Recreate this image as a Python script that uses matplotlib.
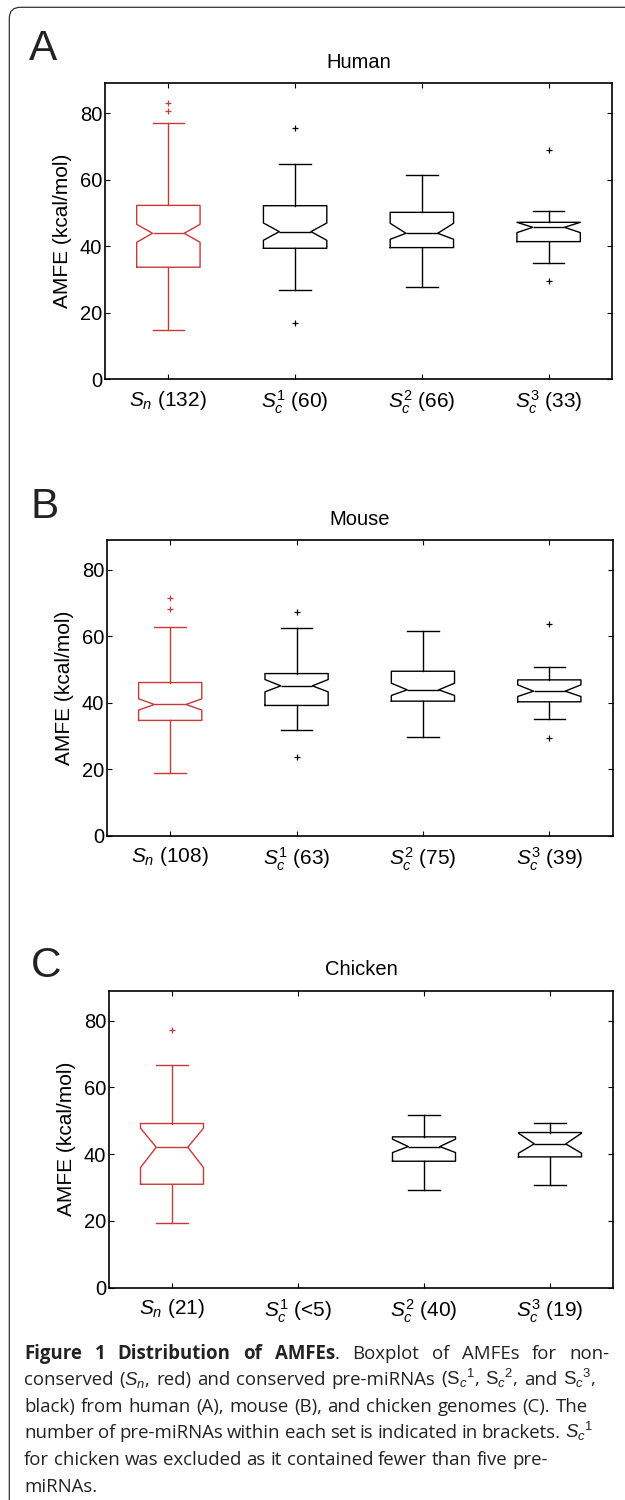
import matplotlib
matplotlib.use('Agg')
import matplotlib.pyplot as plt
from matplotlib.patches import FancyBboxPatch
from matplotlib.transforms import IdentityTransform

plt.rcParams['font.family'] = ['Liberation Sans', 'DejaVu Sans']
plt.rcParams['mathtext.fontset'] = 'custom'
plt.rcParams['mathtext.rm'] = 'Liberation Sans'
plt.rcParams['mathtext.it'] = 'Liberation Sans:italic'
plt.rcParams['mathtext.bf'] = 'Liberation Sans:bold'

W, H = 625, 1500
RED = '#c83a3a'

# ---- data (AMFE, kcal/mol) ----
human_labels = ['$S_n$ (132)', '$S_c^1$ (60)', '$S_c^2$ (66)', '$S_c^3$ (33)']
human_pos = [1, 2, 3, 4]
human_med = [43.9, 44.4, 43.9, 45.7]
human_q1 = [33.7, 39.4, 39.6, 41.4]
human_q3 = [52.3, 52.2, 50.2, 47.2]
human_lo = [14.8, 26.8, 27.9, 35.1]
human_hi = [77.2, 64.8, 61.4, 50.7]
human_cilo = [41.2, 41.8, 42.1, 44.1]
human_cihi = [46.6, 47.0, 46.9, 47.2]
human_fliers = [[83.0, 80.8], [75.5, 16.9], [], [69.0, 29.6]]

mouse_labels = ['$S_n$ (108)', '$S_c^1$ (63)', '$S_c^2$ (75)', '$S_c^3$ (39)']
mouse_pos = [1, 2, 3, 4]
mouse_med = [39.5, 45.1, 43.9, 43.5]
mouse_q1 = [34.7, 39.2, 40.5, 40.3]
mouse_q3 = [46.1, 48.8, 49.5, 46.9]
mouse_lo = [19.0, 31.8, 29.6, 35.0]
mouse_hi = [62.7, 62.5, 61.6, 50.9]
mouse_cilo = [37.8, 43.3, 42.2, 41.9]
mouse_cihi = [41.2, 47.0, 45.9, 45.4]
mouse_fliers = [[71.5, 68.3], [67.2, 23.8], [], [63.7, 29.4]]

chicken_labels = ['$S_n$ (21)', '$S_c^1$ (<5)', '$S_c^2$ (40)', '$S_c^3$ (19)']
chicken_pos = [1, 3, 4]   # S_c^1 excluded
chicken_med = [42.1, 42.3, 43.1]
chicken_q1 = [31.0, 37.9, 39.2]
chicken_q3 = [49.2, 45.2, 46.5]
chicken_lo = [19.4, 29.2, 30.9]
chicken_hi = [66.7, 51.7, 49.5]
chicken_cilo = [36.0, 40.5, 40.3]
chicken_cihi = [47.8, 44.5, 46.3]
chicken_fliers = [[77.1], [], []]

fig = plt.figure(figsize=(W / 100, H / 100), dpi=100)


def fxy(x, y):
    # pixel coords (from top-left) -> figure fraction
    return x / W, 1 - y / H


def panel(box, title, letter, lxy, positions, labels, med, q1, q3, lo, hi, cilo, cihi, fliers):
    x0, y0, x1, y1 = box
    ax = fig.add_axes([x0 / W, 1 - y1 / H, (x1 - x0) / W, (y1 - y0) / H])
    for i, p in enumerate(positions):
        c = RED if p == 1 else 'black'
        st = dict(med=med[i], q1=q1[i], q3=q3[i], whislo=lo[i], whishi=hi[i],
                  cilo=cilo[i], cihi=cihi[i], fliers=fliers[i])
        ax.bxp([st], positions=[p], widths=0.5, shownotches=True,
               boxprops=dict(color=c, lw=1.0),
               whiskerprops=dict(color=c, lw=1.0),
               capprops=dict(color=c, lw=1.0),
               medianprops=dict(color=c, lw=1.0),
               flierprops=dict(marker='+', markeredgecolor=c, markersize=5,
                               markeredgewidth=0.9, linestyle='none'),
               manage_ticks=False)
    ax.set_xlim(0.5, 4.5)
    ax.set_ylim(0, 89)
    ax.set_yticks([0, 20, 40, 60, 80])
    ax.set_xticks([1, 2, 3, 4])
    ax.set_xticklabels(labels, fontsize=15)
    ax.tick_params(axis='y', labelsize=14.5, pad=2)
    ax.tick_params(axis='x', pad=7)
    ax.tick_params(direction='in', length=3.6, width=0.8, top=True, right=True)
    for s in ax.spines.values():
        s.set_linewidth(1.2)
    ax.set_ylabel('AMFE (kcal/mol)', fontsize=15, labelpad=6)
    ax.set_title(title, fontsize=14.5, pad=11)
    fig.text(*fxy(*lxy), letter, fontsize=30.5, color='#222222', va='baseline')
    return ax


panel((105, 83.3, 612, 379.3), 'Human', 'A', (29, 60), human_pos, human_labels,
      human_med, human_q1, human_q3, human_lo, human_hi, human_cilo, human_cihi, human_fliers)
panel((107, 540, 612.5, 835.7), 'Mouse', 'B', (31, 518), mouse_pos, mouse_labels,
      mouse_med, mouse_q1, mouse_q3, mouse_lo, mouse_hi, mouse_cilo, mouse_cihi, mouse_fliers)
panel((109, 990.7, 613, 1287.7), 'Chicken', 'C', (31, 977), chicken_pos, chicken_labels,
      chicken_med, chicken_q1, chicken_q3, chicken_lo, chicken_hi, chicken_cilo, chicken_cihi,
      chicken_fliers)

# article frame with rounded top-left corner
frame = FancyBboxPatch((9.3, -100), 800, H - 7.3 + 100,
                       boxstyle='round,pad=0,rounding_size=11',
                       transform=IdentityTransform(), fill=False,
                       edgecolor='#333333', lw=0.9)
fig.patches.append(frame)

# ---- caption ----
cap_lines = [
    [('Figure 1 Distribution of AMFEs', 'bold'), ('. Boxplot of AMFEs for non-', 'normal')],
    [(r'conserved ($S_n$, red) and conserved pre-miRNAs ($\mathrm{S}_c{}^1$, $\mathrm{S}_c{}^2$, and $\mathrm{S}_c{}^3$,', 'normal')],
    [('black) from human (A), mouse (B), and chicken genomes (C). The', 'normal')],
    [(r'number of pre-miRNAs within each set is indicated in brackets. $S_c{}^1$', 'normal')],
    [('for chicken was excluded as it contained fewer than five pre-', 'normal')],
    [('miRNAs.', 'normal')],
]
cap_base = [1359, 1385, 1411.7, 1438.3, 1465, 1491.7]
cap_right = [610, 596, 588, 593, None, None]
CAP_X = 24
CAP_SIZE = 13.4

renderer = fig.canvas.get_renderer()


def split_words(segs):
    words = [[]]
    for txt, wt in segs:
        parts = txt.split(' ')
        for k, p in enumerate(parts):
            if k > 0:
                words.append([])
            if p:
                words[-1].append((p, wt))
    return [w for w in words if w]


def measure(s, wt):
    t = fig.text(0, 0, s, fontsize=CAP_SIZE, fontweight=wt, family='Open Sans')
    w = t.get_window_extent(renderer).width
    t.remove()
    return w


space_w = measure('a a', 'normal') - measure('aa', 'normal')

for segs, yb, xr in zip(cap_lines, cap_base, cap_right):
    words = split_words(segs)
    seg_w = [[measure(s, wt) for s, wt in w] for w in words]
    word_w = [sum(x) for x in seg_w]
    if xr is not None and len(words) > 1:
        gap = max((xr - CAP_X - sum(word_w)) / (len(words) - 1), space_w * 0.8)
    else:
        gap = space_w
    x = CAP_X
    for w, sw in zip(words, seg_w):
        xx = x
        for (s, wt), ww in zip(w, sw):
            fig.text(*fxy(xx, yb), s, fontsize=CAP_SIZE, fontweight=wt,
                     family='Open Sans', color='#222222', va='baseline')
            xx += ww
        x = xx + gap

fig.savefig('out.png', dpi=100)
